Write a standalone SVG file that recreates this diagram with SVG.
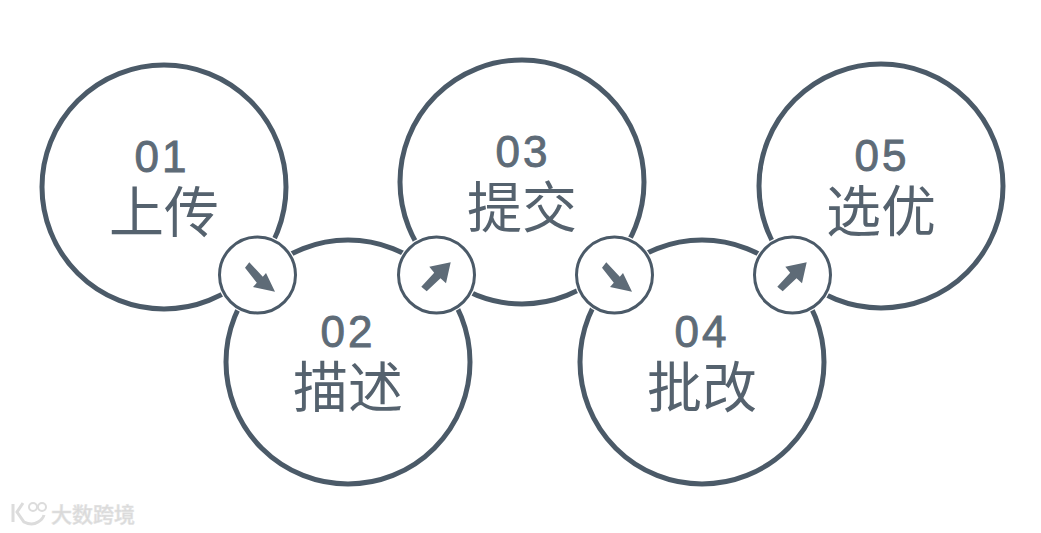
<svg xmlns="http://www.w3.org/2000/svg" width="1041" height="533" viewBox="0 0 1041 533">
<style>
.big{fill:#fff;stroke:#4b5a68;stroke-width:5}
.halo{fill:#fff;stroke:#fff;stroke-width:1.5}
.small{fill:#fff;stroke:#4b5a68;stroke-width:3}
.arr{fill:#5e6b77}
.num{font-family:"Liberation Sans",Arial,sans-serif;font-size:44px;font-weight:400;fill:#5e6b77;stroke:#5e6b77;stroke-width:.9;text-anchor:middle;letter-spacing:3px}
.lab{font-family:"Noto Sans CJK SC","Noto Sans CJK TC",sans-serif;font-size:55px;font-weight:400;fill:#55626e;text-anchor:middle}
.wm{font-family:"Noto Sans CJK SC",sans-serif;font-size:21px;font-weight:500;fill:#d9d9d9;stroke:#e4e4e4;stroke-width:.6}
</style>
<defs>
<polygon id="down" points="245,267.7 249.3,262.3 262.8,276.8 266,273 275,291.7 253,287 256.8,282.8"/>
<polygon id="up" points="421.3,286.7 426.7,291.3 440.5,278.2 446,283.3 450.7,262.3 429.3,266.7 434.2,272.8"/>
</defs>
<rect width="1041" height="533" fill="#fff"/>
<g id="node-01"><circle class="big" cx="164" cy="187" r="122"/><text class="num" x="162" y="172">01</text><text class="lab" x="164" y="232">上传</text></g>
<g id="node-03"><circle class="big" cx="522" cy="182" r="122"/><text class="num" x="523" y="167">03</text><text class="lab" x="522" y="227">提交</text></g>
<g id="node-05"><circle class="big" cx="881" cy="186" r="122"/><text class="num" x="882" y="171">05</text><text class="lab" x="881" y="231">选优</text></g>
<g id="node-02"><circle class="big" cx="348" cy="362" r="122"/><text class="num" x="348" y="347">02</text><text class="lab" x="348" y="407">描述</text></g>
<g id="node-04"><circle class="big" cx="702" cy="362" r="122"/><text class="num" x="702" y="347">04</text><text class="lab" x="702" y="407">批改</text></g>
<g id="connectors">
<g id="link-1-2"><circle class="halo" cx="257.5" cy="275" r="40"/><circle class="small" cx="257.5" cy="275" r="38"/><use href="#down" class="arr"/></g>
<g id="link-2-3"><circle class="halo" cx="436.5" cy="275" r="40"/><circle class="small" cx="436.5" cy="275" r="38"/><use href="#up" class="arr"/></g>
<g id="link-3-4"><circle class="halo" cx="614.5" cy="275" r="40"/><circle class="small" cx="614.5" cy="275" r="38"/><use href="#down" class="arr" x="357"/></g>
<g id="link-4-5"><circle class="halo" cx="792.5" cy="275" r="40"/><circle class="small" cx="792.5" cy="275" r="38"/><use href="#up" class="arr" x="356"/></g>
</g>
<g id="watermark" fill="none" stroke="#dcdcdc" stroke-width="3">
<path d="M13 504V522M23 503L17 512L24 522Q32 526 38 522Q43 519 44 515"/>
<circle cx="33" cy="507" r="4" stroke-width="2"/><circle cx="42" cy="507" r="4" stroke-width="2"/>
<text class="wm" x="51" y="522">大数跨境</text>
</g>
</svg>
